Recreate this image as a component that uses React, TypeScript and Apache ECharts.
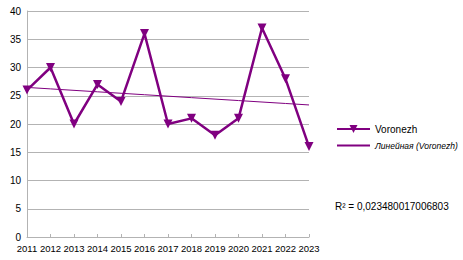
import React, { useEffect, useRef } from "react";
import * as echarts from "echarts";

const years = ["2011","2012","2013","2014","2015","2016","2017","2018","2019","2020","2021","2022","2023"];
const voronezh = [26, 30, 20, 27, 24, 36, 20, 21, 18, 21, 37, 28, 16];
const seriesName = "Voronezh";
const trendName = "Линейная (Voronezh)";
const r2Label = "R² = 0,023480017006803";

function linearTrend(vals: number[]) {
  const n = vals.length;
  const mx = (n - 1) / 2;
  const my = vals.reduce((a, b) => a + b, 0) / n;
  let sxy = 0, sxx = 0;
  vals.forEach((v, i) => { sxy += (i - mx) * (v - my); sxx += (i - mx) ** 2; });
  const slope = sxy / sxx;
  return vals.map((_, i) => my + slope * (i - mx));
}

export default function App() {
  const ref = useRef<HTMLDivElement>(null);
  useEffect(() => {
    const chart = echarts.init(ref.current!, null, { renderer: "svg" });
    const color = "#800080";
    const font = "Liberation Sans";
    chart.setOption({
      animation: false,
      textStyle: { fontFamily: font },
      grid: { left: 27, right: 154, top: 11, bottom: 23, containLabel: false },
      legend: {
        orient: "vertical",
        left: 336,
        top: 124,
        padding: 0,
        itemGap: 7,
        itemWidth: 33,
        itemHeight: 10,
        textStyle: { fontSize: 10, color: "#000", fontFamily: font },
        data: [
          { name: seriesName },
          { name: trendName, itemStyle: { opacity: 0 }, textStyle: { fontSize: 8.5, fontStyle: "italic" } },
        ],
      },
      xAxis: {
        type: "category",
        data: years,
        boundaryGap: false,
        axisLine: { lineStyle: { color: "#b3b3b3" } },
        axisTick: { show: true, inside: true, length: 3, interval: 0, lineStyle: { color: "#b3b3b3" } },
        axisLabel: { color: "#000", fontSize: 9.5, margin: 6, interval: 0, hideOverlap: false, fontFamily: font },
        splitLine: { show: false },
      },
      yAxis: {
        type: "value",
        min: 0,
        max: 40,
        interval: 5,
        axisLine: { show: true, lineStyle: { color: "#b3b3b3" } },
        axisTick: { show: false },
        axisLabel: { color: "#000", fontSize: 10, margin: 6, fontFamily: font },
        splitLine: { lineStyle: { color: "#b3b3b3" } },
      },
      series: [
        {
          name: seriesName,
          type: "line",
          data: voronezh,
          symbol: "triangle",
          symbolRotate: 180,
          symbolSize: 9,
          lineStyle: { color, width: 2.5 },
          itemStyle: { color },
          z: 3,
        },
        {
          name: trendName,
          type: "line",
          data: linearTrend(voronezh),
          symbol: "none",
          lineStyle: { color, width: 1 },
          itemStyle: { color },
          z: 2,
        },
      ],
      graphic: [
        {
          type: "text",
          left: 335,
          top: 201,
          style: { text: r2Label, fontSize: 10, fill: "#000", fontFamily: font },
        },
      ],
    });
    return () => chart.dispose();
  }, []);
  return <div ref={ref} style={{ width: 463, height: 260, position: "absolute", left: 0, top: 0 }} />;
}
